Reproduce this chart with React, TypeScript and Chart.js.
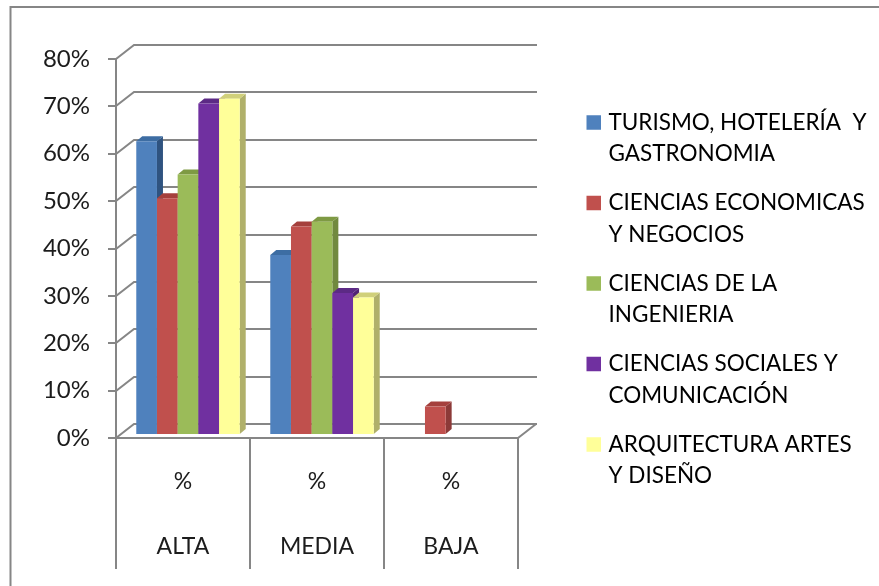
import React, { useEffect, useRef } from "react";
import { Chart, registerables } from "chart.js";

Chart.register(...registerables);

const categories: string[][] = [["%", "ALTA"], ["%", "MEDIA"], ["%", "BAJA"]];
const turismo = [62, 38, 0];
const economicas = [50, 44, 6];
const ingenieria = [55, 45, 0];
const sociales = [70, 30, 0];
const arquitectura = [71, 29, 0];
const allValues = [turismo, economicas, ingenieria, sociales, arquitectura];
const seriesNames: string[][] = [
  ["TURISMO, HOTELERÍA  Y", "GASTRONOMIA"],
  ["CIENCIAS ECONOMICAS", "Y NEGOCIOS"],
  ["CIENCIAS DE LA", "INGENIERIA"],
  ["CIENCIAS SOCIALES Y", "COMUNICACIÓN"],
  ["ARQUITECTURA ARTES", "Y DISEÑO"],
];
const frontColors = ["#4F81BD", "#C0504D", "#9BBB59", "#7030A0", "#FFFF99"];
const sideColors = ["#2F5380", "#8C3A38", "#71893F", "#512374", "#B0B06A"];
const topColors = ["#3D6DA3", "#A5403D", "#7E9A43", "#5C2A85", "#D0D07A"];

const LINE = "#868686";
const FONT = "Lato";
const TEXT = "#1c1c1c";

const scene = {
  id: "scene",
  beforeLayout(chart: any) {
    const legend = chart.legend;
    if (legend && !legend.__wrapped) {
      const fit = legend.fit;
      legend.fit = function () {
        fit.call(this);
        this.width = 361;
      };
      legend.__wrapped = true;
    }
  },
  afterLayout(chart: any) {
    const legend = chart.legend;
    const pad = legend.options.labels.padding;
    legend.left = 590.25 - pad;
    legend.top = 111.2 - pad;
    legend.right = 879;
    legend.bottom = 586;
  },
  beforeDraw(chart: any) {
    const { ctx, width, height } = chart;
    ctx.save();
    ctx.fillStyle = "#fff";
    ctx.fillRect(0, 0, width, height);
    ctx.strokeStyle = LINE;
    ctx.lineWidth = 2;
    ctx.beginPath();
    ctx.moveTo(10.5, height);
    ctx.lineTo(10.5, 7);
    ctx.lineTo(width, 7);
    ctx.stroke();
    ctx.restore();
  },
  beforeDatasetsDraw(chart: any) {
    const { ctx, chartArea, scales } = chart;
    const dx = 18;
    const dy = 14;
    ctx.save();
    ctx.strokeStyle = LINE;
    ctx.lineWidth = 2;
    ctx.beginPath();
    for (const t of scales.y.ticks) {
      const y = Math.round(scales.y.getPixelForValue(t.value));
      ctx.moveTo(chartArea.left, y);
      ctx.lineTo(chartArea.left + dx, y - dy);
      ctx.lineTo(chartArea.right + dx + 1, y - dy);
    }
    ctx.moveTo(chartArea.right, chartArea.bottom);
    ctx.lineTo(chartArea.right + dx, chartArea.bottom - dy);
    ctx.stroke();
    ctx.restore();

    ctx.save();
    ctx.translate(5, -3);
    const d = 6;
    const u = 5;
    allValues.forEach((vals, i) => {
      const meta = chart.getDatasetMeta(i);
      meta.data.forEach((el: any, j: number) => {
        if (!vals[j]) return;
        const p = el.getProps(["x", "y", "base", "width"], true);
        const l = p.x - p.width / 2;
        const r = p.x + p.width / 2;
        ctx.fillStyle = sideColors[i];
        ctx.beginPath();
        ctx.moveTo(r, p.y);
        ctx.lineTo(r + d, p.y - u);
        ctx.lineTo(r + d, p.base - u);
        ctx.lineTo(r, p.base);
        ctx.closePath();
        ctx.fill();
        ctx.fillStyle = topColors[i];
        ctx.beginPath();
        ctx.moveTo(l, p.y);
        ctx.lineTo(l + d, p.y - u);
        ctx.lineTo(r + d, p.y - u);
        ctx.lineTo(r, p.y);
        ctx.closePath();
        ctx.fill();
        el.draw(ctx);
      });
    });
    ctx.restore();
    return false;
  },
};

export default function App() {
  const ref = useRef<HTMLCanvasElement>(null);
  useEffect(() => {
    const chart = new Chart(ref.current as HTMLCanvasElement, {
      type: "bar",
      data: {
        labels: categories as any,
        datasets: allValues.map((data, i) => ({
          label: seriesNames[i].join(" "),
          data,
          backgroundColor: frontColors[i],
          borderWidth: 0,
          barPercentage: 1,
          categoryPercentage: 0.772,
        })),
      },
      options: {
        animation: false,
        responsive: false,
        layout: { padding: { top: 59, left: 0, right: 0, bottom: 0 } },
        scales: {
          y: {
            min: 0,
            max: 80,
            afterFit: (s: any) => {
              s.width = 116;
            },
            border: { color: LINE, width: 2 },
            grid: { drawOnChartArea: false, color: LINE, lineWidth: 2, tickLength: 8 },
            ticks: {
              stepSize: 10,
              padding: 18,
              color: TEXT,
              font: { family: FONT, size: 24 },
              callback: (v: any) => `${v}%`,
            },
          },
          x: {
            afterFit: (s: any) => {
              s.height = 148;
            },
            border: { color: LINE, width: 2 },
            grid: { drawOnChartArea: false, color: LINE, lineWidth: 2, tickLength: 131 },
            ticks: {
              padding: -120,
              color: TEXT,
              maxRotation: 0,
              autoSkip: false,
              font: { family: FONT, size: 23, lineHeight: "65px" as any },
            },
          },
        },
        plugins: {
          title: { display: false },
          tooltip: { enabled: false },
          legend: {
            position: "right",
            align: "start",
            labels: {
              boxWidth: 7,
              boxHeight: 7,
              padding: 17.5,
              color: TEXT,
              font: { family: FONT, size: 22.5, lineHeight: "31.5px" as any },
              generateLabels: () =>
                seriesNames.map((text, i) => ({
                  text: text as any,
                  fillStyle: frontColors[i],
                  strokeStyle: frontColors[i],
                  lineWidth: 7.5,
                  hidden: false,
                  datasetIndex: i,
                })),
            },
          },
        },
      },
      plugins: [scene as any],
    });
    return () => chart.destroy();
  }, []);
  return (
    <div style={{ position: "fixed", left: 0, top: 0, width: 879, height: 586 }}>
      <canvas ref={ref} width={879} height={586} style={{ display: "block", filter: "blur(0.4px)" }} />
    </div>
  );
}
